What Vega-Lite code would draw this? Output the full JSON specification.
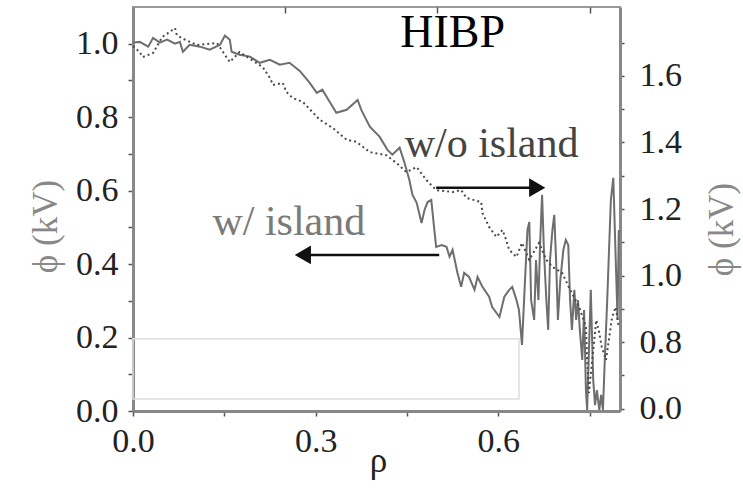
{
  "$schema": "https://vega.github.io/schema/vega-lite/v6.json",
  "width": 487,
  "height": 404,
  "autosize": {"type": "none"},
  "padding": {"left": 133, "top": 7, "right": 123, "bottom": 82},
  "background": "white",
  "config": {
    "view": {"stroke": "#999", "strokeWidth": 2},
    "font": "Liberation Serif",
    "axis": {
      "grid": false,
      "domainColor": "#888",
      "domainWidth": 3,
      "tickColor": "#555",
      "tickWidth": 1.5,
      "tickSize": 5,
      "labelFont": "Liberation Serif",
      "labelFontSize": 34,
      "labelColor": "#222",
      "labelOverlap": false,
      "labelFlush": false,
      "labelBound": false,
      "titleFont": "Liberation Serif",
      "titleFontSize": 35,
      "titleFontWeight": "normal",
      "titleColor": "#888"
    }
  },
  "datasets": {
    "solid": [
      {"rho": 0.0, "phi": 1.003}, {"rho": 0.011, "phi": 1.005}, {"rho": 0.025, "phi": 0.992}, {"rho": 0.033, "phi": 1.016},
      {"rho": 0.044, "phi": 1.003}, {"rho": 0.056, "phi": 1.011}, {"rho": 0.069, "phi": 1.0}, {"rho": 0.077, "phi": 1.005},
      {"rho": 0.082, "phi": 0.978}, {"rho": 0.093, "phi": 0.997}, {"rho": 0.11, "phi": 0.992}, {"rho": 0.126, "phi": 0.984},
      {"rho": 0.143, "phi": 0.997}, {"rho": 0.151, "phi": 1.022}, {"rho": 0.159, "phi": 1.011}, {"rho": 0.162, "phi": 0.978},
      {"rho": 0.175, "phi": 0.97}, {"rho": 0.192, "phi": 0.965}, {"rho": 0.208, "phi": 0.948}, {"rho": 0.225, "phi": 0.956},
      {"rho": 0.241, "phi": 0.943}, {"rho": 0.257, "phi": 0.948}, {"rho": 0.274, "phi": 0.926}, {"rho": 0.29, "phi": 0.894},
      {"rho": 0.302, "phi": 0.866}, {"rho": 0.311, "phi": 0.875}, {"rho": 0.323, "phi": 0.842}, {"rho": 0.334, "phi": 0.812},
      {"rho": 0.351, "phi": 0.82}, {"rho": 0.369, "phi": 0.847}, {"rho": 0.375, "phi": 0.82}, {"rho": 0.389, "phi": 0.774},
      {"rho": 0.405, "phi": 0.747}, {"rho": 0.418, "phi": 0.711}, {"rho": 0.426, "phi": 0.698}, {"rho": 0.438, "phi": 0.717},
      {"rho": 0.446, "phi": 0.676}, {"rho": 0.454, "phi": 0.629}, {"rho": 0.459, "phi": 0.589}, {"rho": 0.466, "phi": 0.567},
      {"rho": 0.474, "phi": 0.512}, {"rho": 0.479, "phi": 0.548}, {"rho": 0.484, "phi": 0.569}, {"rho": 0.49, "phi": 0.575},
      {"rho": 0.495, "phi": 0.493}, {"rho": 0.498, "phi": 0.447}, {"rho": 0.507, "phi": 0.452}, {"rho": 0.515, "phi": 0.447},
      {"rho": 0.52, "phi": 0.42}, {"rho": 0.525, "phi": 0.439}, {"rho": 0.533, "phi": 0.376}, {"rho": 0.539, "phi": 0.338},
      {"rho": 0.544, "phi": 0.376}, {"rho": 0.552, "phi": 0.365}, {"rho": 0.561, "phi": 0.33}, {"rho": 0.566, "phi": 0.365},
      {"rho": 0.574, "phi": 0.338}, {"rho": 0.585, "phi": 0.311}, {"rho": 0.59, "phi": 0.283}, {"rho": 0.602, "phi": 0.256},
      {"rho": 0.61, "phi": 0.311}, {"rho": 0.618, "phi": 0.33}, {"rho": 0.623, "phi": 0.338}, {"rho": 0.63, "phi": 0.302},
      {"rho": 0.634, "phi": 0.275}, {"rho": 0.639, "phi": 0.18}, {"rho": 0.644, "phi": 0.357}, {"rho": 0.648, "phi": 0.493},
      {"rho": 0.651, "phi": 0.515}, {"rho": 0.654, "phi": 0.302}, {"rho": 0.659, "phi": 0.248}, {"rho": 0.662, "phi": 0.411},
      {"rho": 0.666, "phi": 0.302}, {"rho": 0.669, "phi": 0.466}, {"rho": 0.672, "phi": 0.589}, {"rho": 0.675, "phi": 0.439},
      {"rho": 0.679, "phi": 0.302}, {"rho": 0.682, "phi": 0.221}, {"rho": 0.685, "phi": 0.411}, {"rho": 0.689, "phi": 0.493},
      {"rho": 0.692, "phi": 0.534}, {"rho": 0.695, "phi": 0.411}, {"rho": 0.698, "phi": 0.248}, {"rho": 0.702, "phi": 0.357},
      {"rho": 0.707, "phi": 0.439}, {"rho": 0.711, "phi": 0.466}, {"rho": 0.715, "phi": 0.452}, {"rho": 0.718, "phi": 0.302},
      {"rho": 0.721, "phi": 0.221}, {"rho": 0.725, "phi": 0.33}, {"rho": 0.728, "phi": 0.248}, {"rho": 0.731, "phi": 0.302},
      {"rho": 0.734, "phi": 0.221}, {"rho": 0.738, "phi": 0.139}, {"rho": 0.741, "phi": 0.275}, {"rho": 0.744, "phi": 0.057},
      {"rho": 0.746, "phi": 0.003}, {"rho": 0.749, "phi": 0.166}, {"rho": 0.752, "phi": 0.33}, {"rho": 0.756, "phi": 0.084},
      {"rho": 0.759, "phi": 0.016}, {"rho": 0.762, "phi": 0.057}, {"rho": 0.766, "phi": 0.003}, {"rho": 0.769, "phi": 0.044},
      {"rho": 0.772, "phi": 0.003}, {"rho": 0.775, "phi": 0.139}, {"rho": 0.779, "phi": 0.302}, {"rho": 0.782, "phi": 0.439},
      {"rho": 0.785, "phi": 0.575}, {"rho": 0.789, "phi": 0.635}, {"rho": 0.793, "phi": 0.411}, {"rho": 0.796, "phi": 0.248},
      {"rho": 0.798, "phi": 0.493}
    ],
    "dotted": [
      {"rho": 0.0, "phi": 1.69}, {"rho": 0.011, "phi": 1.672}, {"rho": 0.016, "phi": 1.657}, {"rho": 0.033, "phi": 1.669},
      {"rho": 0.048, "phi": 1.717}, {"rho": 0.069, "phi": 1.744}, {"rho": 0.072, "phi": 1.723}, {"rho": 0.08, "phi": 1.714},
      {"rho": 0.105, "phi": 1.693}, {"rho": 0.138, "phi": 1.699}, {"rho": 0.159, "phi": 1.642}, {"rho": 0.175, "phi": 1.672},
      {"rho": 0.213, "phi": 1.627}, {"rho": 0.225, "phi": 1.594}, {"rho": 0.23, "phi": 1.573}, {"rho": 0.246, "phi": 1.579},
      {"rho": 0.252, "phi": 1.552}, {"rho": 0.262, "phi": 1.534}, {"rho": 0.279, "phi": 1.522}, {"rho": 0.307, "phi": 1.468},
      {"rho": 0.328, "phi": 1.444}, {"rho": 0.351, "phi": 1.408}, {"rho": 0.367, "phi": 1.402}, {"rho": 0.389, "phi": 1.371},
      {"rho": 0.416, "phi": 1.362}, {"rho": 0.433, "phi": 1.338}, {"rho": 0.449, "phi": 1.311}, {"rho": 0.466, "phi": 1.326},
      {"rho": 0.482, "phi": 1.287}, {"rho": 0.498, "phi": 1.257}, {"rho": 0.525, "phi": 1.251}, {"rho": 0.539, "phi": 1.257},
      {"rho": 0.548, "phi": 1.233}, {"rho": 0.572, "phi": 1.221}, {"rho": 0.574, "phi": 1.188}, {"rho": 0.585, "phi": 1.146},
      {"rho": 0.597, "phi": 1.116}, {"rho": 0.607, "phi": 1.137}, {"rho": 0.613, "phi": 1.107}, {"rho": 0.618, "phi": 1.077},
      {"rho": 0.63, "phi": 1.056}, {"rho": 0.639, "phi": 1.098}, {"rho": 0.651, "phi": 1.047}, {"rho": 0.667, "phi": 1.098},
      {"rho": 0.679, "phi": 1.047}, {"rho": 0.689, "phi": 1.026}, {"rho": 0.705, "phi": 1.008}, {"rho": 0.716, "phi": 0.965},
      {"rho": 0.733, "phi": 0.905}, {"rho": 0.744, "phi": 0.845}, {"rho": 0.746, "phi": 0.746}, {"rho": 0.749, "phi": 0.647},
      {"rho": 0.761, "phi": 0.866}, {"rho": 0.766, "phi": 0.827}, {"rho": 0.77, "phi": 0.785}, {"rho": 0.777, "phi": 0.746},
      {"rho": 0.787, "phi": 0.875}, {"rho": 0.793, "phi": 0.905}, {"rho": 0.798, "phi": 0.845}
    ]
  },
  "resolve": {"scale": {"y": "independent"}, "axis": {"x": "independent"}},
  "layer": [
    {
      "data": {"values": [{"x0": 0, "x1": 0.634, "y0": 0.033, "y1": 0.197}]},
      "mark": {"type": "rect", "filled": false, "stroke": "#dddddd", "strokeWidth": 1.5},
      "encoding": {
        "x": {"field": "x0", "type": "quantitative", "scale": {"domain": [0, 0.8], "nice": false, "zero": false}, "axis": null},
        "x2": {"field": "x1"},
        "y": {"field": "y0", "type": "quantitative", "scale": {"domain": [0, 1.1], "nice": false, "zero": false}, "axis": null},
        "y2": {"field": "y1"}
      }
    },
    {
      "data": {"name": "solid"},
      "mark": {"type": "line", "color": "#6e6e6e", "strokeWidth": 2},
      "encoding": {
        "x": {
          "field": "rho", "type": "quantitative",
          "scale": {"domain": [0, 0.8], "nice": false, "zero": false},
          "axis": {
            "orient": "bottom", "title": "ρ", "titleColor": "#222",
            "values": [0, 0.15, 0.3, 0.45, 0.6, 0.75],
            "labelExpr": "round(datum.value*100) % 30 == 0 ? format(datum.value, '.1f') : ''",
            "labelPadding": 8,
            "titleX": 245, "titleY": 60, "titleBaseline": "alphabetic", "titleAlign": "center"
          }
        },
        "y": {
          "field": "phi", "type": "quantitative",
          "scale": {"domain": [0, 1.1], "nice": false, "zero": false},
          "axis": {
            "orient": "left", "title": "ϕ (kV)",
            "values": [0, 0.1, 0.2, 0.3, 0.4, 0.5, 0.6, 0.7, 0.8, 0.9, 1.0],
            "labelExpr": "round(datum.value*10) % 2 == 0 ? format(datum.value, '.1f') : ''",
            "labelPadding": 10,
            "titleAngle": -90, "titleX": -88, "titleY": 219, "titleAlign": "center", "titleBaseline": "middle"
          }
        }
      }
    },
    {
      "data": {"name": "dotted"},
      "mark": {"type": "line", "color": "#4a4a4a", "strokeWidth": 2, "strokeDash": [2, 3]},
      "encoding": {
        "x": {
          "field": "rho", "type": "quantitative",
          "scale": {"domain": [0, 0.8], "nice": false, "zero": false},
          "axis": {"orient": "top", "values": [0.25, 0.5, 0.75], "labels": false, "domain": false, "tickSize": -6, "title": null}
        },
        "y": {
          "field": "phi", "type": "quantitative",
          "scale": {"domain": [0.5925, 1.8075], "nice": false, "zero": false},
          "axis": {
            "orient": "right", "title": "ϕ (kV)",
            "values": [0.6, 0.7, 0.8, 0.9, 1.0, 1.1, 1.2, 1.3, 1.4, 1.5, 1.6, 1.7],
            "labelExpr": "datum.value < 0.65 ? '0.0' : (round(datum.value*10) % 2 == 0 ? format(datum.value, '.1f') : '')",
            "labelPadding": 15, "tickSize": 4,
            "titleAngle": -90, "titleX": 101, "titleY": 222, "titleAlign": "center", "titleBaseline": "middle"
          }
        }
      }
    },
    {
      "data": {"values": [{"x0": 0.498, "x1": 0.655, "y": 0.608}, {"x0": 0.503, "x1": 0.29, "y": 0.425}]},
      "mark": {"type": "rule", "color": "#111", "strokeWidth": 2.5},
      "encoding": {
        "x": {"field": "x0", "type": "quantitative", "scale": {"domain": [0, 0.8], "nice": false, "zero": false}, "axis": null},
        "x2": {"field": "x1"},
        "y": {"field": "y", "type": "quantitative", "scale": {"domain": [0, 1.1], "nice": false, "zero": false}, "axis": null}
      }
    },
    {
      "data": {"values": [{"x": 0.664, "y": 0.608}]},
      "mark": {"type": "point", "shape": "triangle-right", "filled": true, "color": "#111", "size": 350, "opacity": 1},
      "encoding": {
        "x": {"field": "x", "type": "quantitative", "scale": {"domain": [0, 0.8], "nice": false, "zero": false}, "axis": null},
        "y": {"field": "y", "type": "quantitative", "scale": {"domain": [0, 1.1], "nice": false, "zero": false}, "axis": null}
      }
    },
    {
      "data": {"values": [{"x": 0.279, "y": 0.425}]},
      "mark": {"type": "point", "shape": "triangle-left", "filled": true, "color": "#111", "size": 350, "opacity": 1},
      "encoding": {
        "x": {"field": "x", "type": "quantitative", "scale": {"domain": [0, 0.8], "nice": false, "zero": false}, "axis": null},
        "y": {"field": "y", "type": "quantitative", "scale": {"domain": [0, 1.1], "nice": false, "zero": false}, "axis": null}
      }
    },
    {
      "data": {"values": [{"label": "HIBP", "x": 0.525, "y": 0.99}]},
      "mark": {"type": "text", "font": "Liberation Serif", "fontSize": 46, "color": "#000", "align": "center", "baseline": "alphabetic"},
      "encoding": {
        "x": {"field": "x", "type": "quantitative", "scale": {"domain": [0, 0.8], "nice": false, "zero": false}, "axis": null},
        "y": {"field": "y", "type": "quantitative", "scale": {"domain": [0, 1.1], "nice": false, "zero": false}, "axis": null},
        "text": {"field": "label"}
      }
    },
    {
      "data": {"values": [{"label": "w/o island", "x": 0.589, "y": 0.692}]},
      "mark": {"type": "text", "font": "Liberation Serif", "fontSize": 42, "color": "#444", "align": "center", "baseline": "alphabetic"},
      "encoding": {
        "x": {"field": "x", "type": "quantitative", "scale": {"domain": [0, 0.8], "nice": false, "zero": false}, "axis": null},
        "y": {"field": "y", "type": "quantitative", "scale": {"domain": [0, 1.1], "nice": false, "zero": false}, "axis": null},
        "text": {"field": "label"}
      }
    },
    {
      "data": {"values": [{"label": "w/ island", "x": 0.256, "y": 0.48}]},
      "mark": {"type": "text", "font": "Liberation Serif", "fontSize": 42, "color": "#7a7a7a", "align": "center", "baseline": "alphabetic"},
      "encoding": {
        "x": {"field": "x", "type": "quantitative", "scale": {"domain": [0, 0.8], "nice": false, "zero": false}, "axis": null},
        "y": {"field": "y", "type": "quantitative", "scale": {"domain": [0, 1.1], "nice": false, "zero": false}, "axis": null},
        "text": {"field": "label"}
      }
    }
  ]
}
